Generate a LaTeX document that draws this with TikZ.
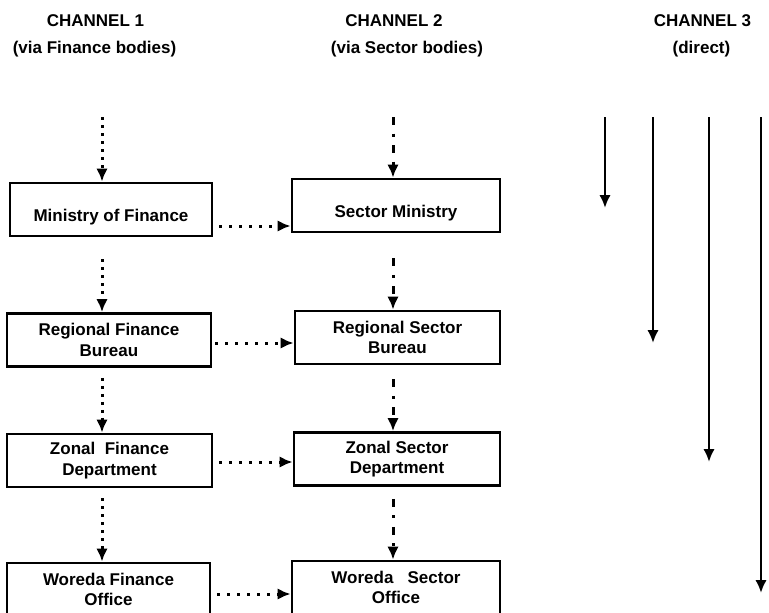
\documentclass[tikz,border=0pt]{standalone}
\usepackage{fontspec}
\setmainfont{Liberation Sans}
\usetikzlibrary{arrows.meta}
\tikzstyle{block} = [draw, line width=2.8pt, rectangle, inner sep=0pt,
    minimum height=53pt, align=center, font=\bfseries\fontsize{17}{20.5}\selectfont]
\tikzstyle{oneline} = [text height=23pt, text depth=0pt]
\tikzstyle{head} = [anchor=base, inner sep=0pt, font=\bfseries\fontsize{17}{20.5}\selectfont]
\tikzstyle{finflow} = [->, line width=3pt, dash pattern=on 3pt off 5pt]
\tikzstyle{secflow} = [->, line width=3pt, dash pattern=on 8pt off 8.5pt on 3pt off 8.5pt]
\tikzstyle{hflow} = [->, line width=3pt, dash pattern=on 3pt off 7pt]
\tikzstyle{direct} = [->, line width=2.8pt]

\begin{document}
\begin{tikzpicture}[x=1pt, y=-1pt, >={Latex[length=13pt,width=11.5pt]}]
    \useasboundingbox (0,0) rectangle (769,613);

    % Headers of the three channels
    \node [head] (ch1) at (95.5,26) {CHANNEL 1};
    \node [head] (ch1sub) at (94.5,53) {(via Finance bodies)};
    \node [head] (ch2) at (394,26) {CHANNEL 2};
    \node [head] (ch2sub) at (407,53) {(via Sector bodies)};
    \node [head] (ch3) at (702.5,26) {CHANNEL 3};
    \node [head] (ch3sub) at (701.5,53) {(direct)};

    % Finance bodies
    \node [block, oneline, minimum width=202pt] (mof) at (111,209.5) {Ministry of Finance};
    \node [block, minimum width=204pt] (rfb) at (109,340) {Regional Finance\\Bureau};
    \node [block, minimum width=205pt] (zfd) at (109.5,460.5) {Zonal\ \ Finance\\Department};
    \node [block, minimum width=203pt] (wfo) at (108.5,589.5) {Woreda Finance\\Office};

    % Sector bodies
    \node [block, oneline, minimum width=208pt] (sm) at (396,205.5) {Sector Ministry};
    \node [block, minimum width=205pt] (rsb) at (397.5,337.5) {Regional Sector\\Bureau};
    \node [block, minimum width=206pt] (zsd) at (397,459) {Zonal Sector\\Department};
    \node [block, minimum width=208pt] (wso) at (396,587.5) {Woreda\ \ \ Sector\\Office};

    % Channel 1
    \coordinate (c1top) at (102,117);
    \draw [finflow] (c1top) -- (c1top |- mof.north);
    \draw [finflow, shorten <=22pt] (c1top |- mof.south) -- (c1top |- rfb.north);
    \draw [finflow, shorten <=10pt] (c1top |- rfb.south) -- (c1top |- zfd.north);
    \draw [finflow, shorten <=10pt] (c1top |- zfd.south) -- (c1top |- wfo.north);

    % Channel 2
    \coordinate (c2top) at (393,117);
    \draw [secflow] (c2top) -- (c2top |- sm.north);
    \draw [secflow, shorten <=25pt] (c2top |- sm.south) -- (c2top |- rsb.north);
    \draw [secflow, shorten <=14pt] (c2top |- rsb.south) -- (c2top |- zsd.north);
    \draw [secflow, shorten <=12pt] (c2top |- zsd.south) -- (c2top |- wso.north);

    % Finance to sector
    \coordinate (h1) at ([yshift=-16.5pt]mof.east);
    \draw [hflow, shorten <=6pt] (h1) -- (h1 -| sm.west);
    \coordinate (h2) at ([yshift=-3pt]rfb.east);
    \draw [hflow, shorten <=3pt] (h2) -- (h2 -| rsb.west);
    \coordinate (h3) at ([yshift=-1.5pt]zfd.east);
    \draw [hflow, shorten <=6pt] (h3) -- (h3 -| zsd.west);
    \coordinate (h4) at ([yshift=-4.5pt]wfo.east);
    \draw [hflow, shorten <=6pt] (h4) -- (h4 -| wso.west);

    % Channel 3
    \foreach \x/\y [count=\i] in {605/208, 653/343, 709/462, 761/593} {
        \coordinate (d\i top) at (\x,117);
        \coordinate (d\i end) at (\x,\y);
        \draw [direct] (d\i top) -- (d\i end);
    }
\end{tikzpicture}
\end{document}
